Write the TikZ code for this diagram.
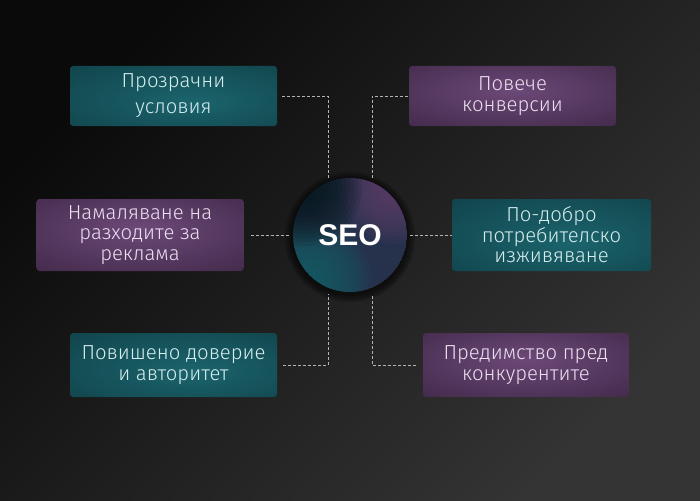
\documentclass[tikz,border=0pt]{standalone}
\usepackage{fontspec}
\setmainfont{Fira Sans}[UprightFont=* Light]
\newfontfamily\seofont{Liberation Sans}
\usepackage{tikz}
\usetikzlibrary{positioning}
\definecolor{bgdark}{HTML}{0A0A0A}
\definecolor{bglight}{HTML}{343434}
\definecolor{tealin}{HTML}{1B646C}
\definecolor{tealout}{HTML}{0F3D45}
\definecolor{purpin}{HTML}{6C4978}
\definecolor{purpout}{HTML}{38223F}
\definecolor{tealtext}{HTML}{D6EEF0}
\definecolor{purptext}{HTML}{EDE0F0}
\definecolor{linkgray}{HTML}{B4B4B4}
\definecolor{seomid}{HTML}{26314C}
\definecolor{seopurple}{HTML}{67416F}
\definecolor{seoteal}{HTML}{13636A}
\definecolor{seodark}{HTML}{06171B}
\pgfdeclareradialshading{tealglow}{\pgfpoint{5bp}{-5bp}}{color(0bp)=(tealin); color(48bp)=(tealout); color(70bp)=(tealout)}
\pgfdeclareradialshading{purpglow}{\pgfpoint{0bp}{5bp}}{color(0bp)=(purpin); color(48bp)=(purpout); color(70bp)=(purpout)}
\tikzset{
  box/.style={rectangle, rounded corners=3pt, minimum width=207pt, inner sep=0pt,
    align=center, font=\fontsize{20.3}{20.5}\selectfont},
  tealbox/.style={box, shading=tealglow, text=tealtext},
  purplebox/.style={box, shading=purpglow, text=purptext},
  link/.style={draw=linkgray, dash pattern=on 3pt off 2pt, line width=0.9pt}
}

\begin{document}
\begin{tikzpicture}[x=1pt,y=-1pt]
\useasboundingbox (0,0) rectangle (700,500);
\shade[top color=bgdark, bottom color=bglight, shading angle=45] (0,0) rectangle (700,500);

\node[tealbox, minimum height=60pt, font=\fontsize{20.3}{26}\selectfont] (prozr) at (173.5,96) {Прозрачни\\ условия};
\node[purplebox, minimum height=72pt] (razh) at (140,235) {Намаляване на\\ разходите за\\ реклама};
\node[tealbox, minimum height=64pt] (dover) at (173.5,365) {Повишено доверие\\ и авторитет};
\node[purplebox, minimum height=60pt] (konv) at (512.5,96) {Повече\\ конверсии};
\node[tealbox, minimum height=72pt, minimum width=199pt] (potreb) at (551.5,235) {По-добро\\ потребителско\\ изживяване};
\node[purplebox, minimum height=64pt, minimum width=206pt] (konk) at (526,365) {Предимство пред\\ конкурентите};

% circle glow and colour blobs
\foreach \r in {65,63,61,59}
  \fill[black, opacity=0.18] (350,237) circle (\r pt);
\begin{scope}
\clip (350,235) circle (57pt);
\fill[seomid] (350,235) circle (57pt);
\foreach \r in {64,60,...,4}
  \fill[seoteal, opacity=0.1] (308,282) circle (\r pt);
\foreach \r in {56,52,...,4}
  \fill[seopurple, opacity=0.1] (394,188) circle (\r pt);
\foreach \r in {58,54,...,4}
  \fill[seodark, opacity=0.12] (304,188) circle (\r pt);
\end{scope}
\node[circle, minimum size=114pt, inner sep=0pt, text=white,
  font=\seofont\bfseries\fontsize{30}{30}\selectfont] (seo) at (350,235) {SEO};

\coordinate (tl) at (328,178);
\coordinate (tr) at (372,178);
\coordinate (bl) at (328,294);
\coordinate (br) at (372,294);

\draw[link, shorten <=5pt] (prozr.east) -| (tl);
\draw[link, shorten <=7pt, shorten >=3pt] (razh.east) -- (seo.west);
\draw[link, shorten <=6pt] (dover.east) -| (bl);
\draw[link, shorten <=1pt] (konv.west) -| (tr);
\draw[link, shorten <=3pt] (seo.east) -- (potreb.west);
\draw[link, shorten <=7pt] (konk.west) -| (br);
\end{tikzpicture}
\end{document}
